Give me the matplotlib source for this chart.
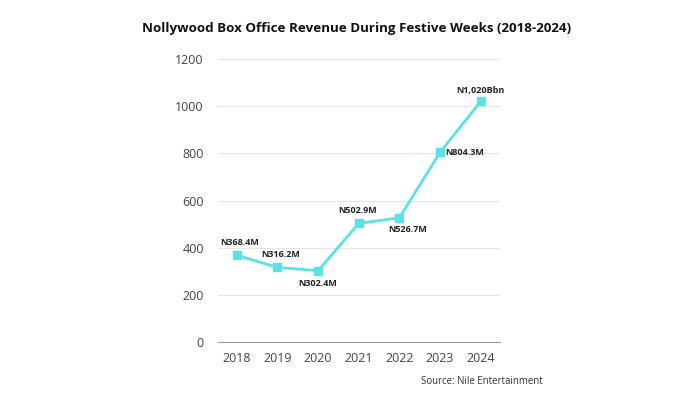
import matplotlib.pyplot as plt

plt.rcParams['font.family'] = ['Open Sans', 'DejaVu Sans']

years = [2018, 2019, 2020, 2021, 2022, 2023, 2024]
revenue = [368.4, 316.2, 302.4, 502.9, 526.7, 804.3, 1020]
labels = ['N368.4M', 'N316.2M', 'N302.4M', 'N502.9M', 'N526.7M', 'N804.3M', 'N1,020Bbn']
# label placement (offset in points, alignment)
label_pos = [
    ((2, 6), 'center', 'bottom'),
    ((2, 6), 'center', 'bottom'),
    ((0, -6), 'center', 'top'),
    ((-1, 6), 'center', 'bottom'),
    ((6, -5), 'center', 'top'),
    ((4, 0), 'left', 'center'),
    ((0, 5), 'center', 'bottom'),
]

line_color = '#5ce1e6'

fig = plt.figure(figsize=(7, 4), dpi=100)
ax = fig.add_axes([0.311, 0.145, 0.403, 0.7075])

ax.plot(years, revenue, color=line_color, lw=2, marker='s', markersize=6, zorder=3)

for x, y, txt, (off, ha, va) in zip(years, revenue, labels, label_pos):
    ax.annotate(txt, (x, y), xytext=off, textcoords='offset points',
                ha=ha, va=va, fontsize=6.5, fontweight='bold', color='#222222')

ax.set_xlim(2017.53, 2024.47)
ax.set_ylim(0, 1200)
ax.set_xticks(years)
ax.set_yticks(range(0, 1201, 200))
ax.grid(axis='y', color='#e6e6e6', lw=0.8)
ax.set_axisbelow(True)
for s in ['top', 'right', 'left']:
    ax.spines[s].set_visible(False)
ax.spines['bottom'].set_color('#999999')
ax.spines['bottom'].set_linewidth(0.8)
ax.tick_params(length=0, labelsize=9, colors='#444444', pad=7)
ax.tick_params(axis='y', pad=10)

fig.text(0.51, 0.928, 'Nollywood Box Office Revenue During Festive Weeks (2018-2024)',
         ha='center', va='center', fontsize=9.6, fontweight='bold', color='#111111')
fig.text(0.776, 0.045, 'Source: Nile Entertainment', ha='right', va='center',
         fontsize=6.9, color='#333333')

fig.savefig('out.png', dpi=100)
